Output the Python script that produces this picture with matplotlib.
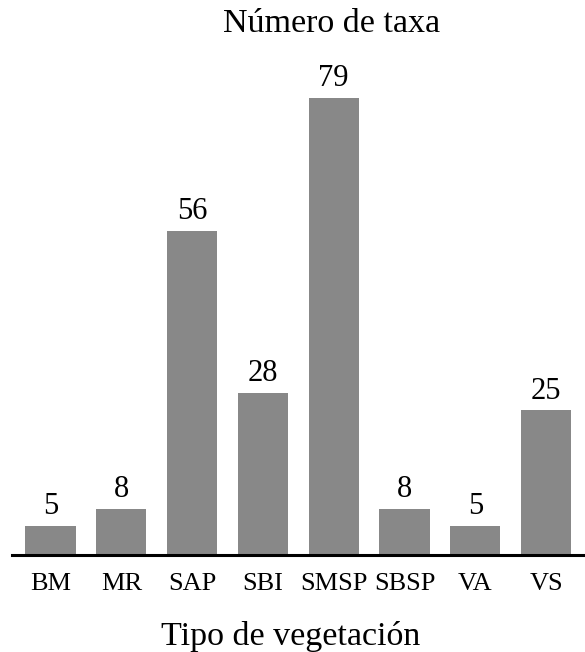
import matplotlib
matplotlib.use("Agg")
import matplotlib.pyplot as plt

categories = ["BM", "MR", "SAP", "SBI", "SMSP", "SBSP", "VA", "VS"]
values = [5, 8, 56, 28, 79, 8, 5, 25]

plt.rcParams['font.family'] = ['Liberation Serif', 'DejaVu Serif']

fig = plt.figure(figsize=(5.85, 6.52), dpi=100)
ax = fig.add_axes([0.021, 0.149, 0.979, 0.759])
x = range(len(categories))
bars = ax.bar(x, values, width=0.71, color="#888888", zorder=2)
for xi, v in zip(x, values):
    ax.annotate(str(v), (xi, v), xytext=(0, 8.5), textcoords="offset points",
                ha="center", va="baseline", fontsize=22, color="black")

ax.set_xlim(-0.54, 7.55)
ax.set_ylim(0, 85.6)
ax.set_xticks(list(x))
ax.set_xticklabels(categories, fontsize=19)
ax.tick_params(axis="x", length=0, pad=13)
ax.set_yticks([])
for s in ["top", "right", "left"]:
    ax.spines[s].set_visible(False)
ax.spines["bottom"].set_linewidth(2.2)
ax.spines["bottom"].set_zorder(3)
fig.text(0.496, 1 - 645 / 652, "Tipo de vegetación", ha="center", va="baseline", fontsize=24.5)
fig.text(0.566, 1 - 32 / 652, "Número de taxa", ha="center", va="baseline", fontsize=24.5)

fig.savefig("out.png", dpi=100)
